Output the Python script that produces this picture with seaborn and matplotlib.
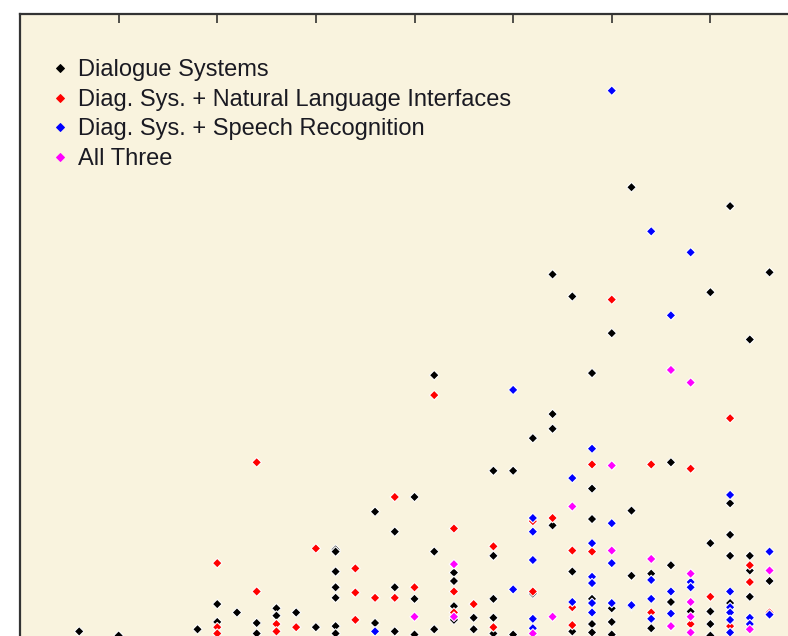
import numpy as np
import pandas as pd
import seaborn as sns
import matplotlib.pyplot as plt
from matplotlib.lines import Line2D

series_names = ["Dialogue Systems",
                "Diag. Sys. + Natural Language Interfaces",
                "Diag. Sys. + Speech Recognition",
                "All Three"]
series_colors = ["#000000", "#ff0000", "#0000ff", "#ff00ff"]

# (year, value) pairs
dialogue_pts = [
    (1973, 1.2), (1975, 0.8), (1979, 1.4), (1980, 3.8), (1980, 2.1), (1981, 3.0),
    (1982, 2.0), (1982, 1.0), (1983, 3.4), (1983, 2.7), (1984, 3.0), (1985, 1.6),
    (1986, 9.0), (1986, 8.8), (1986, 6.9), (1986, 5.4), (1986, 4.4), (1986, 1.7), (1986, 1.0),
    (1988, 12.6), (1988, 2.0), (1989, 10.7), (1989, 5.4), (1989, 1.2),
    (1990, 14.0), (1990, 4.3), (1990, 0.9), (1991, 25.6), (1991, 8.8), (1991, 1.4),
    (1992, 6.8), (1992, 6.0), (1992, 3.6), (1992, 2.3), (1993, 2.5), (1993, 1.4),
    (1994, 16.5), (1994, 8.4), (1994, 4.3), (1994, 2.5), (1994, 1.0),
    (1995, 16.5), (1995, 0.9), (1996, 19.6), (1996, 4.8),
    (1997, 35.2), (1997, 21.9), (1997, 20.5), (1997, 11.3),
    (1998, 33.1), (1998, 6.9), (1998, 1.2),
    (1999, 25.8), (1999, 14.8), (1999, 11.9), (1999, 4.3), (1999, 1.9), (1999, 1.1),
    (2000, 29.6), (2000, 3.4), (2000, 2.1), (2000, 0.9),
    (2001, 43.5), (2001, 12.7), (2001, 6.5), (2001, 3.6), (2002, 6.7), (2002, 1.5),
    (2003, 17.3), (2003, 7.5), (2003, 4.0), (2004, 3.1),
    (2005, 33.5), (2005, 9.6), (2005, 3.1), (2005, 1.9), (2005, 0.8),
    (2006, 41.7), (2006, 13.4), (2006, 10.4), (2006, 8.4), (2006, 3.9),
    (2007, 29.0), (2007, 8.4), (2007, 7.0), (2007, 4.5), (2008, 35.4), (2008, 6.0),
]
nli_pts = [
    (1980, 7.7), (1980, 1.6), (1980, 1.0), (1982, 17.3), (1982, 5.0),
    (1983, 1.9), (1983, 1.2), (1984, 1.6), (1985, 9.1),
    (1987, 7.2), (1987, 4.9), (1987, 2.3), (1988, 4.4), (1989, 14.0), (1989, 4.4),
    (1990, 5.4), (1991, 23.7), (1992, 11.0), (1992, 5.0), (1992, 3.0), (1993, 3.8),
    (1994, 9.3), (1994, 1.6), (1996, 11.7), (1996, 5.0), (1997, 12.0),
    (1998, 8.9), (1998, 3.5), (1998, 1.8), (1999, 17.1), (1999, 8.8), (2000, 32.8),
    (2002, 17.1), (2002, 3.0), (2004, 16.7), (2004, 1.9), (2005, 4.5),
    (2006, 21.5), (2006, 3.0), (2006, 1.7), (2007, 7.5), (2007, 5.9), (2008, 3.0),
]
speech_pts = [
    (1988, 1.2), (1995, 24.2), (1995, 5.2),
    (1996, 12.0), (1996, 10.7), (1996, 8.0), (1996, 2.4), (1996, 1.5),
    (1998, 15.8), (1998, 4.0),
    (1999, 18.6), (1999, 9.6), (1999, 6.4), (1999, 5.8), (1999, 3.9), (1999, 3.0),
    (2000, 52.7), (2000, 11.5), (2000, 7.7), (2000, 3.9), (2001, 3.7),
    (2002, 39.3), (2002, 6.1), (2002, 4.3), (2002, 2.4),
    (2003, 31.3), (2003, 5.0), (2003, 2.9), (2004, 37.3), (2004, 5.9), (2004, 5.4),
    (2006, 14.2), (2006, 5.0), (2006, 3.5), (2006, 3.0), (2006, 2.3), (2006, 1.1),
    (2007, 2.5), (2007, 1.9), (2008, 8.8), (2008, 2.8),
]
all_three_pts = [
    (1990, 2.6), (1992, 7.6), (1992, 2.6), (1996, 1.0), (1997, 2.6), (1998, 13.1),
    (2000, 17.0), (2000, 8.9), (2002, 8.1), (2003, 26.1), (2003, 1.7),
    (2004, 24.9), (2004, 6.7), (2004, 4.0), (2004, 2.6), (2004, 1.1),
    (2007, 1.4), (2008, 7.0),
]

frames = []
for name, pts in zip(series_names, [dialogue_pts, nli_pts, speech_pts, all_three_pts]):
    d = pd.DataFrame(pts, columns=["year", "value"])
    d["group"] = name
    frames.append(d)
df = pd.concat(frames, ignore_index=True)

sns.set_style("white", {"axes.facecolor": "#f9f3de"})
plt.rcParams["font.family"] = ["Liberation Sans", "DejaVu Sans"]

fig = plt.figure(figsize=(7.88, 6.36), dpi=100)
# the plot is larger than the visible picture: bottom and right lie outside
ax = fig.add_axes([20 / 788, -8 / 636, 789 / 788, 630 / 636])

sns.scatterplot(data=df, x="year", y="value", hue="group", hue_order=series_names,
                palette=series_colors, marker="D", s=24, linewidth=0.8,
                legend=False, ax=ax)

ax.set_xlim(1970, 2010)
ax.set_ylim(0, 60)
ax.set_xticks(np.arange(1970, 2011, 5))
ax.set_yticks(np.arange(0, 61, 10))
ax.tick_params(direction="in", top=True, right=True, length=6.5, width=1.1,
               color="#222222", labelleft=False, labelbottom=False)
ax.set_xlabel("")
ax.set_ylabel("")
for sp in ax.spines.values():
    sp.set_color("#333333")
    sp.set_linewidth(1.6)

handles = [Line2D([], [], linestyle="none", marker="D", markersize=4.4,
                  markerfacecolor=c, markeredgecolor=c, markeredgewidth=0.7)
           for c in series_colors]
ax.legend(handles, series_names, loc="upper left", bbox_to_anchor=(0.042, 0.928),
          frameon=False, fontsize=17, handlelength=0.6, handletextpad=0.45,
          labelspacing=0.32, borderaxespad=0, borderpad=0, labelcolor="#1a1a22")

fig.savefig("out.png", dpi=100)
